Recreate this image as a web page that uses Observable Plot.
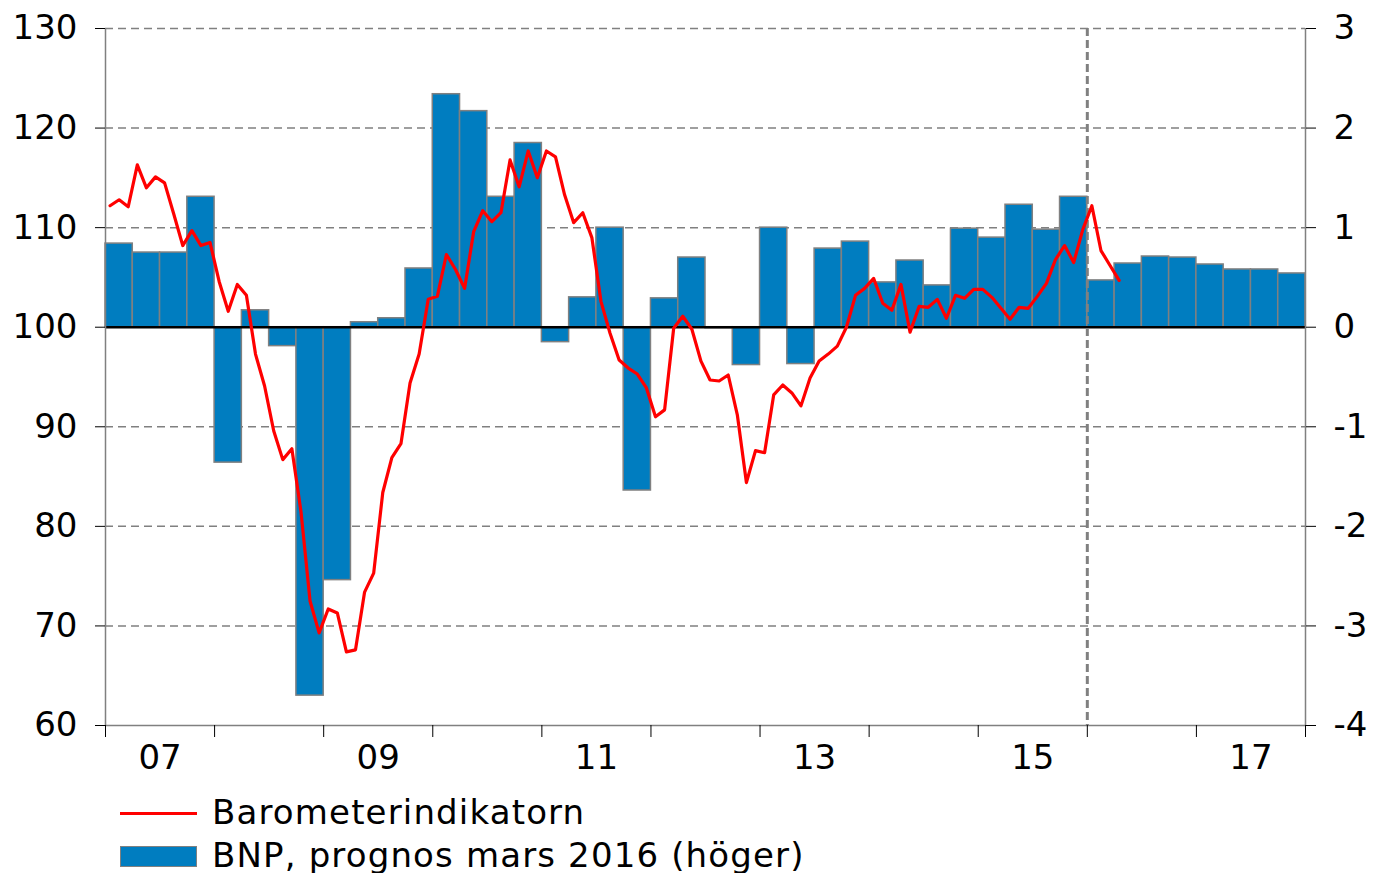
<!DOCTYPE html>
<html><head><meta charset="utf-8">
<script src="https://cdn.jsdelivr.net/npm/d3@7"></script>
<script src="https://cdn.jsdelivr.net/npm/@observablehq/plot@0.6"></script>
<style>
body{margin:0;background:#fff;font-family:"DejaVu Sans",Verdana,sans-serif;}
#wrap{position:relative;width:1374px;height:873px;}
.lg{position:absolute;left:212px;font-size:34px;line-height:40px;color:#000;white-space:nowrap;letter-spacing:1.15px;}
</style></head><body>
<div id="wrap"><div id="chart"></div>
<div style="position:absolute;left:120px;top:812px;width:77px;height:3px;background:#ff0000"></div>
<div class="lg" style="top:792px">Barometerindikatorn</div>
<div style="position:absolute;left:120px;top:846px;width:75px;height:19px;background:#007DC0;border:1px solid #808080"></div>
<div class="lg" style="top:835px">BNP, prognos mars 2016 (höger)</div>
</div>
<script>
// GDP quarterly change (right axis, %), 2007Q1 .. 2017Q4
const gdpStartYear = 2007;
const gdp = [0.84,0.75,0.75,1.31, -1.36,0.17,-0.19,-3.70, -2.54,0.05,0.09,0.59,
  2.34,2.17,1.31,1.85, -0.15,0.30,1.00,-1.64, 0.29,0.70,-0.01,-0.38,
  1.00,-0.37,0.79,0.86, 0.45,0.67,0.42,0.99, 0.90,1.23,0.98,1.31,
  0.47,0.64,0.71,0.70, 0.63,0.58,0.58,0.54];
// Barometerindikatorn monthly (left axis), Jan 2007 .. Apr 2016
const baro = [112.2,112.8,112.1,116.3,114.0,115.1,114.5,111.4,108.2,109.7,108.2,108.5,
  104.6,101.6,104.3,103.2,97.3,94.1,89.6,86.7,87.8,81.5,72.5,69.3,
  71.7,71.3,67.4,67.6,73.4,75.3,83.4,86.9,88.3,94.4,97.3,102.8,
  103.1,107.3,105.8,103.9,109.6,111.7,110.6,111.5,116.8,114.1,117.7,115.0,
  117.7,117.1,113.3,110.5,111.5,109.0,102.6,99.4,96.7,95.9,95.3,93.9,
  91.0,91.7,99.9,101.1,99.8,96.6,94.7,94.6,95.2,91.2,84.4,87.6,
  87.4,93.2,94.2,93.4,92.1,94.9,96.6,97.3,98.1,100.0,103.2,103.9,
  104.9,102.4,101.7,104.3,99.5,102.1,102.0,102.8,100.9,103.2,102.9,103.8,
  103.8,103.0,101.9,100.8,102.0,101.9,103.1,104.4,106.8,108.2,106.5,109.8,
  112.2,107.7,106.2,104.7];
const leftTicks = [60,70,80,90,100,110,120,130];
const rightTickLabels = ["-4","-3","-2","-1","0","1","2","3"];
const yearLabels = ["07","09","11","13","15","17"];
const yearBounds = d3.range(2007, 2019);
const forecastStart = 2016;

const bars = gdp.map((v,i)=>({x1: gdpStartYear + i/4, x2: gdpStartYear + (i+1)/4, v: 100 + 10*v}));
const line = baro.map((v,i)=>({x: gdpStartYear + (i+0.5)/12, y: v}));
const labelPos = yearLabels.map(s=>2000 + +s + 0.5);

const chart = Plot.plot({
  width: 1374, height: 790,
  marginLeft: 105, marginRight: 69, marginTop: 28, marginBottom: 65,
  x: {domain: [2007, 2018], axis: null},
  y: {domain: [60, 130], axis: null},
  style: {fontFamily: '"DejaVu Sans", Verdana, sans-serif', fontSize: "34px", background: "white", color: "black"},
  marks: [
    Plot.ruleY(leftTicks.filter(d=>d!==100 && d!==60), {stroke:"#808080", strokeWidth:1.5, strokeDasharray:"8,5"}),
    Plot.rect(bars, {x1:"x1", x2:"x2", y1:100, y2:"v", fill:"#007DC0", stroke:"#808080", strokeWidth:1.5}),
    Plot.ruleY([100], {stroke:"black", strokeWidth:2.5}),
    Plot.ruleX([forecastStart], {stroke:"#808080", strokeWidth:3, strokeDasharray:"8,4"}),
    Plot.line(line, {x:"x", y:"y", stroke:"#ff0000", strokeWidth:3.2}),
    Plot.ruleX([2007, 2018], {stroke:"#808080", strokeWidth:1.5}),
    Plot.ruleY([60], {stroke:"#808080", strokeWidth:1.5}),
    Plot.axisY({anchor:"left", ticks: leftTicks, tickSize:10, tickPadding:18, tickFormat: d=>String(d)}),
    Plot.axisY({anchor:"right", ticks: leftTicks, tickSize:10, tickPadding:18, tickFormat: d=>rightTickLabels[leftTicks.indexOf(d)]}),
    Plot.axisX({ticks: yearBounds, tickSize:12, tickFormat: ()=>""}),
    Plot.axisX({ticks: labelPos, tickSize:0, tickPadding:19, tickFormat: d=>yearLabels[labelPos.indexOf(d)]})
  ]
});
document.getElementById("chart").appendChild(chart);
</script></body></html>
